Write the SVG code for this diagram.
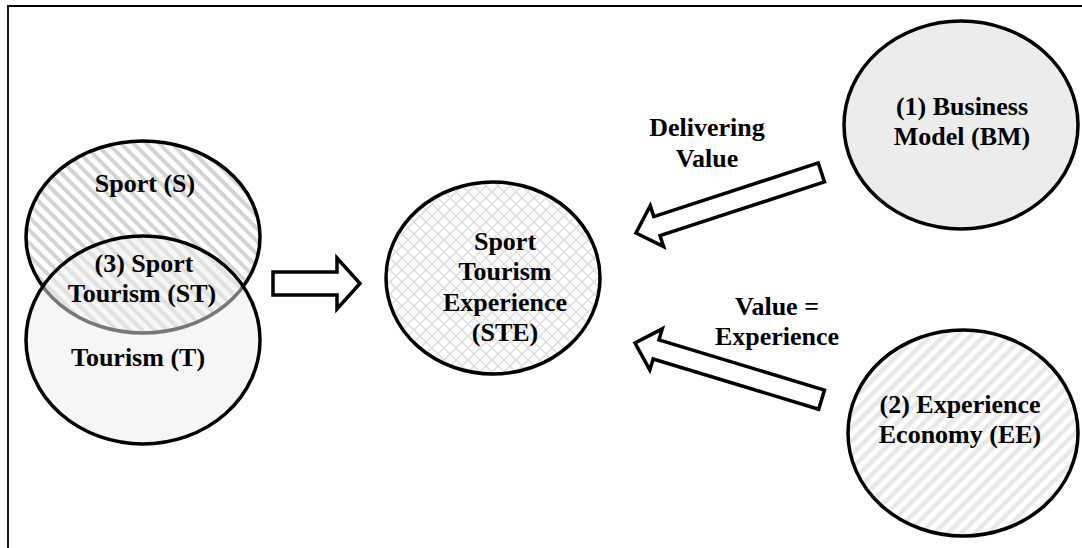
<svg xmlns="http://www.w3.org/2000/svg" width="1082" height="548" viewBox="0 0 1082 548">
  <style>
    .lbl { font-family: "Liberation Serif", "Times New Roman", serif; font-weight: bold; font-size: 26px; fill: #000; text-anchor: middle; }
    .ring { stroke: #000; stroke-width: 3.5; }
    .arrow { fill: #fff; stroke: #000; stroke-width: 3.5; stroke-linejoin: miter; }
  </style>
  <defs>
    <pattern id="hatchS" width="9" height="9" patternUnits="userSpaceOnUse" patternTransform="rotate(-45)">
      <rect width="9" height="9" fill="#fff"/>
      <rect width="4" height="9" fill="#d4d4d4"/>
    </pattern>
    <pattern id="hatchE" width="9.5" height="9.5" patternUnits="userSpaceOnUse" patternTransform="rotate(45)">
      <rect width="9.5" height="9.5" fill="#fff"/>
      <rect width="4.5" height="9.5" fill="#e8e8e8"/>
    </pattern>
    <pattern id="cross" width="12" height="12" patternUnits="userSpaceOnUse">
      <rect width="12" height="12" fill="#fff"/>
      <path d="M0,0 L12,12 M12,0 L0,12" stroke="#dedede" stroke-width="1.5"/>
    </pattern>
    <polygon id="blockArrow" points="-195,-10 -22,-10 -22,-21.5 0,0 -22,21.5 -22,10 -195,10"/>
  </defs>

  <rect width="1082" height="548" fill="#fff"/>
  <g id="frame" fill="none" stroke="#000" stroke-width="1.8">
    <path d="M8,548 L8,6 L1082,6"/>
  </g>

  <g id="sport">
    <ellipse cx="143" cy="237" rx="117" ry="96" fill="url(#hatchS)" class="ring"/>
    <text class="lbl" x="145" y="192">Sport (S)</text>
  </g>

  <g id="tourism">
    <ellipse cx="143" cy="340" rx="117" ry="104" fill="#eeeeee" fill-opacity="0.5" class="ring"/>
    <text class="lbl" x="138" y="366">Tourism (T)</text>
  </g>

  <g id="sport-tourism">
    <text class="lbl" x="144" y="272">(3) Sport</text>
    <text class="lbl" x="142" y="302">Tourism (ST)</text>
  </g>

  <g id="ste">
    <ellipse cx="493" cy="278" rx="107" ry="96" fill="url(#cross)" class="ring"/>
    <text class="lbl" x="505" y="250">Sport</text>
    <text class="lbl" x="505" y="280">Tourism</text>
    <text class="lbl" x="505" y="311">Experience</text>
    <text class="lbl" x="505" y="341">(STE)</text>
  </g>

  <g id="bm">
    <ellipse cx="961" cy="125" rx="117" ry="104" fill="#ececec" class="ring"/>
    <text class="lbl" x="962" y="115">(1) Business</text>
    <text class="lbl" x="962" y="145">Model (BM)</text>
  </g>

  <g id="ee">
    <ellipse cx="963" cy="433" rx="115" ry="103" fill="url(#hatchE)" class="ring"/>
    <text class="lbl" x="960" y="413">(2) Experience</text>
    <text class="lbl" x="960" y="443">Economy (EE)</text>
  </g>

  <g id="connectors">
    <polygon class="arrow" points="273,272 337,272 337,258 360,283.5 337,309 337,295 273,295"/>
    <use href="#blockArrow" class="arrow" transform="translate(636,233) rotate(161.9)"/>
    <use href="#blockArrow" class="arrow" transform="translate(635,343) rotate(196.9)"/>
    <text class="lbl" x="707" y="136">Delivering</text>
    <text class="lbl" x="707" y="167">Value</text>
    <text class="lbl" x="777" y="315">Value =</text>
    <text class="lbl" x="777" y="345">Experience</text>
  </g>
</svg>
